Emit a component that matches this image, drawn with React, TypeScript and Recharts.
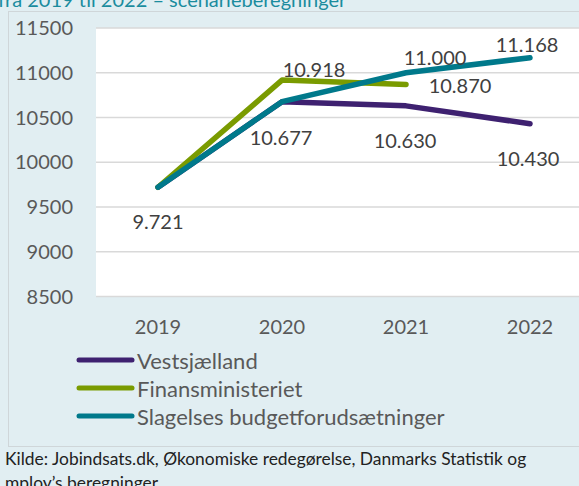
import { CartesianGrid, LabelList, Line, LineChart, XAxis, YAxis } from "recharts"

const years = ["2019", "2020", "2021", "2022"]
const vestsjaelland = [9721, 10677, 10630, 10430]
const finansministeriet = [9721, 10918, 10870, null]
const slagelse = [9721, 10677, 11000, 11168]
const yTicks = [8500, 9000, 9500, 10000, 10500, 11000, 11500]
const seriesNames = ["Vestsjælland", "Finansministeriet", "Slagelses budgetforudsætninger"]
const seriesKeys = ["vest", "finans", "slagelse"]
const colors = ["#3e2170", "#7a9b00", "#00798b"]

// where each value label sits relative to its point (dx, dy of text centre); null = no label
const labelPlacement: Record<string, ([number, number] | null)[]> = {
  vest: [[0, 34], [-1, 35], [-1, 34], [-2, 34]],
  finans: [null, [32, -11], [54, 1], null],
  slagelse: [null, null, [29, -16], [-3, -14]],
}

const data = years.map((year, i) => ({
  year,
  vest: vestsjaelland[i],
  finans: finansministeriet[i],
  slagelse: slagelse[i],
}))

const fmt = (n: number) => String(n).replace(/\B(?=(\d{3})+(?!\d))/g, ".")

const makeLabel = (key: string) => (props: any) => {
  const { x, y, value, index } = props
  const place = labelPlacement[key][index]
  if (!place || value == null || x == null || y == null) return null
  return (
    <text
      key={key + index}
      x={Number(x) + place[0]}
      y={Number(y) + place[1]}
      textAnchor="middle"
      dominantBaseline="central"
      fontSize={20}
      fill="#404040"
    >
      {fmt(value)}
    </text>
  )
}

export default function App() {
  return (
    <div
      style={{
        position: "fixed",
        left: 0,
        top: 0,
        width: 579,
        height: 486,
        overflow: "hidden",
        background: "#e1eef2",
        fontFamily: "Lato, sans-serif",
      }}
    >
      <div
        style={{
          position: "absolute",
          left: -2,
          top: -11,
          fontSize: 20,
          lineHeight: "20px",
          color: "#1b8c9e",
          whiteSpace: "nowrap",
        }}
      >
        fra 2019 til 2022 – scenarieberegninger
      </div>
      <div
        style={{
          position: "absolute",
          left: 8,
          top: 11,
          width: 620,
          height: 436,
          border: "1.5px solid #cfd6d9",
          boxSizing: "border-box",
        }}
      />
      <div style={{ position: "absolute", left: 0, top: 0 }}>
        <LineChart width={592} height={340} data={data} margin={{ top: 28, right: 0, bottom: 0, left: 0 }}>
          <CartesianGrid vertical={false} stroke="#d9d9d9" strokeWidth={1.5} fill="#ffffff" fillOpacity={1} />
          <XAxis
            dataKey="year"
            height={43.5}
            axisLine={false}
            tickLine={false}
            tickSize={0}
            tickMargin={23}
            padding={{ left: 62, right: 62 }}
            tick={{ fontSize: 20, fill: "#595959" }}
          />
          <YAxis
            width={96}
            domain={[8500, 11500]}
            ticks={yTicks}
            axisLine={false}
            tickLine={false}
            tickSize={0}
            tickMargin={23}
            tick={{ fontSize: 20, fill: "#595959" }}
          />
          {seriesKeys.map((key, i) => (
            <Line
              key={key}
              dataKey={key}
              name={seriesNames[i]}
              stroke={colors[i]}
              strokeWidth={5.5}
              strokeLinecap="round"
              strokeLinejoin="round"
              dot={false}
              isAnimationActive={false}
            >
              <LabelList dataKey={key} content={makeLabel(key)} />
            </Line>
          ))}
        </LineChart>
      </div>
      {seriesNames.map((name, i) => (
        <div
          key={name}
          style={{
            position: "absolute",
            left: 75,
            top: 360 + i * 28 - 13,
            height: 26,
            display: "flex",
            alignItems: "center",
            whiteSpace: "nowrap",
          }}
        >
          <svg width={62} height={26}>
            <line x1={4} y1={13} x2={57} y2={13} stroke={colors[i]} strokeWidth={5} strokeLinecap="round" />
          </svg>
          <span style={{ fontSize: 22, color: "#595959" }}>{name}</span>
        </div>
      ))}
      <div
        style={{
          position: "absolute",
          left: 5,
          top: 447,
          fontSize: 17.4,
          lineHeight: "24px",
          color: "#222222",
          whiteSpace: "nowrap",
        }}
      >
        Kilde: Jobindsats.dk, Økonomiske redegørelse, Danmarks Statistik og
        <br />
        mploy’s beregninger.
      </div>
    </div>
  )
}
